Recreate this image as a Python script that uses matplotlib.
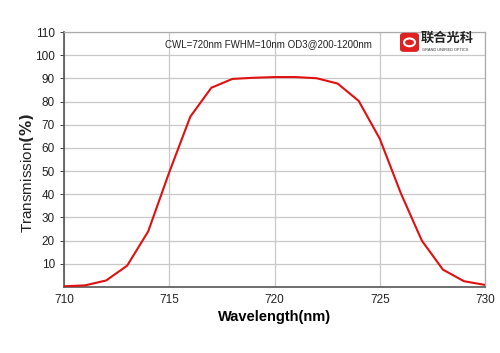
import matplotlib
matplotlib.use("Agg")
import matplotlib.pyplot as plt
from matplotlib.patches import FancyBboxPatch, Circle

wavelength = [710, 711, 712, 713, 714, 715, 716, 717, 718, 719, 720,
              721, 722, 723, 724, 725, 726, 727, 728, 729, 730]
transmission = [0.3, 0.7, 2.8, 9.2, 24.0, 49.5, 73.5, 86.0, 89.8, 90.3, 90.6,
                90.6, 90.1, 87.8, 80.3, 64.0, 40.5, 20.0, 7.5, 2.5, 0.9]
x_ticks = [710, 715, 720, 725, 730]
y_ticks = [10, 20, 30, 40, 50, 60, 70, 80, 90, 100, 110]

plt.rcParams['font.family'] = ['Liberation Sans', 'Noto Sans CJK SC', 'DejaVu Sans']

fig = plt.figure(figsize=(5, 3.53), dpi=100)
ax = fig.add_axes([0.128, 0.187, 0.842, 0.722])
ax.plot(wavelength, transmission, color='#e01010', lw=1.5, zorder=3)
ax.set_xlim(710, 730)
ax.set_ylim(0, 110)
ax.set_xticks(x_ticks)
ax.set_yticks(y_ticks)
ax.grid(True, color='#c8c8c8', lw=0.9)
ax.tick_params(axis='both', labelsize=8.5, colors='#222222', length=3, width=0.6)
ax.tick_params(axis='x', length=0, pad=5)
for s in ['left', 'bottom']:
    ax.spines[s].set_color('#555555')
    ax.spines[s].set_linewidth(1.2)
for s in ['top', 'right']:
    ax.spines[s].set_color('#aaaaaa')
    ax.spines[s].set_linewidth(0.9)

ax.set_xlabel('Wavelength(nm)', fontsize=10.5, fontweight='bold', labelpad=3)
ax.set_ylabel(r'Transmission$\mathbf{(\%)}$', fontsize=11, color='#222222')
ax.yaxis.set_label_coords(-0.066, 0.45)

fig.text(0.33, 0.875, 'CWL=720nm FWHM=10nm OD3@200-1200nm', fontsize=7,
         color='#222222', va='center', ha='left')

# logo
logo = FancyBboxPatch((0.802, 0.855), 0.034, 0.05, boxstyle='round,pad=0.002,rounding_size=0.008',
                      transform=fig.transFigure, facecolor='#e02020', edgecolor='none')
fig.patches.append(logo)
fig.patches.append(Circle((0.819, 0.880), 0.011, transform=fig.transFigure,
                          facecolor='none', edgecolor='white', lw=1.5))
fig.text(0.842, 0.893, '联合光科', fontsize=9.5, fontweight='bold', color='#222222',
         va='center', ha='left', family=['Noto Sans CJK SC', 'DejaVu Sans'])
fig.text(0.843, 0.857, 'GRAND UNIFIED OPTICS', fontsize=2.8, color='#333333',
         va='center', ha='left')

fig.savefig('out.png', dpi=100)
